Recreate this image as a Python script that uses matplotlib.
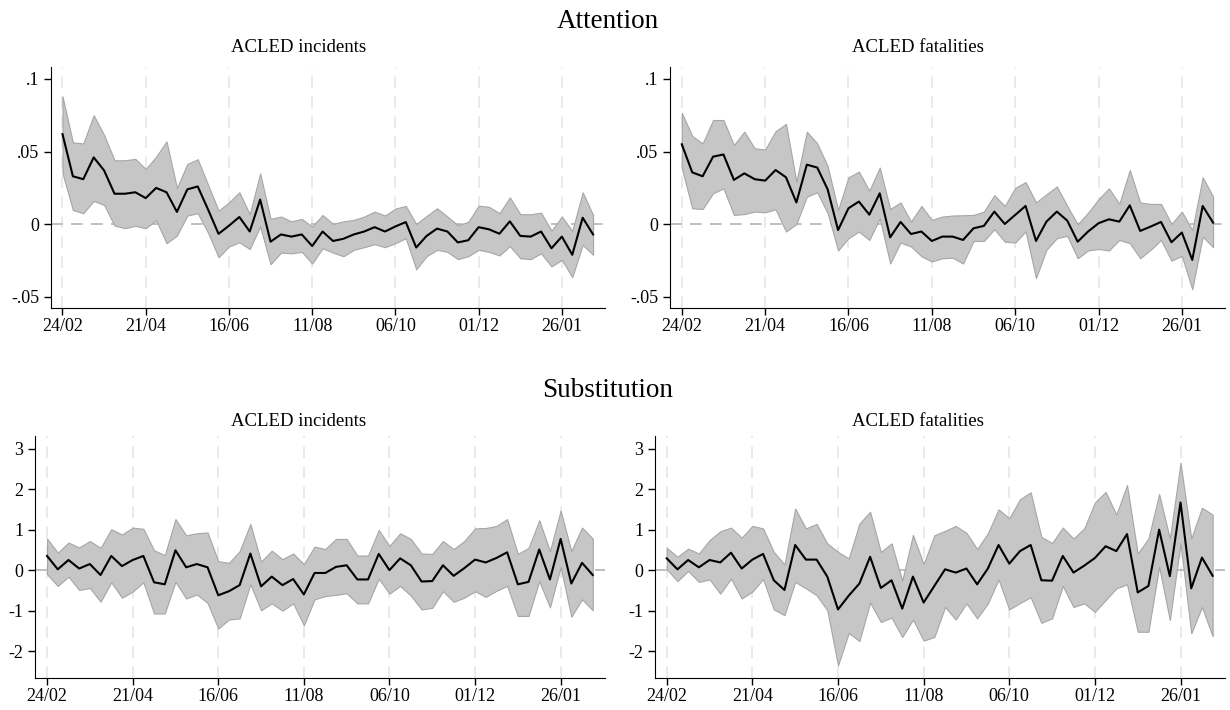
import matplotlib
matplotlib.use('Agg')
import matplotlib.pyplot as plt
import numpy as np

plt.rcParams['font.family'] = ['Liberation Serif', 'DejaVu Serif']

weeks = np.arange(52)
tick_pos = [0, 8, 16, 24, 32, 40, 48]
tick_labels = ["24/02", "21/04", "16/06", "11/08", "06/10", "01/12", "26/01"]

# Attention - ACLED incidents
att_inc = [0.062, 0.033, 0.031, 0.046, 0.037, 0.021, 0.021, 0.022, 0.018, 0.025,
           0.022, 0.0085, 0.024, 0.026, 0.010, -0.0066, -0.001, 0.005, -0.005, 0.017,
           -0.012, -0.007, -0.0085, -0.007, -0.015, -0.005, -0.0115, -0.010, -0.007, -0.005,
           -0.002, -0.005, -0.0015, 0.0015, -0.016, -0.008, -0.003, -0.005, -0.0125, -0.011,
           -0.002, -0.0035, -0.0065, 0.002, -0.008, -0.0085, -0.005, -0.0165, -0.0085, -0.021,
           0.0045, -0.007]
att_inc_hi = [0.088, 0.0563, 0.0556, 0.075, 0.0614, 0.044, 0.044, 0.045, 0.038, 0.0465,
              0.057, 0.025, 0.0415, 0.0447, 0.027, 0.0094, 0.015, 0.022, 0.007, 0.035,
              0.0037, 0.0053, 0.002, 0.0037, -0.0016, 0.0064, 0.0002, 0.002, 0.003, 0.0053,
              0.0087, 0.006, 0.0108, 0.0126, 0.0002, 0.0057, 0.011, 0.0053, -0.0007, 0.0016,
              0.0128, 0.012, 0.0076, 0.0185, 0.0069, 0.0069, 0.008, -0.0044, 0.0053, -0.0046,
              0.022, 0.0064]
att_inc_lo = [0.035, 0.0098, 0.0076, 0.016, 0.0133, -0.0009, -0.0027, -0.0011, -0.0027, 0.0027,
              -0.013, -0.0078, 0.006, 0.0076, -0.006, -0.0227, -0.0153, -0.0124, -0.017, -0.0016,
              -0.0275, -0.0195, -0.020, -0.019, -0.027, -0.0165, -0.0195, -0.022, -0.0176, -0.0158,
              -0.0137, -0.0158, -0.013, -0.0096, -0.031, -0.022, -0.0176, -0.019, -0.024, -0.022,
              -0.0176, -0.019, -0.0215, -0.015, -0.0234, -0.024, -0.020, -0.029, -0.0245, -0.0364,
              -0.0142, -0.021]

# Attention - ACLED fatalities
att_fat = [0.055, 0.0357, 0.033, 0.0465, 0.048, 0.0305, 0.035, 0.031, 0.030, 0.0373,
           0.0323, 0.015, 0.041, 0.039, 0.024, -0.004, 0.011, 0.0156, 0.0066, 0.0213,
           -0.009, 0.0016, -0.0067, -0.005, -0.0115, -0.0085, -0.0085, -0.0108, -0.0028, -0.0011,
           0.0087, 0.0002, 0.0064, 0.0126, -0.0115, 0.0018, 0.0087, 0.0025, -0.012, -0.005,
           0.0007, 0.0034, 0.0018, 0.013, -0.0046, -0.0016, 0.0016, -0.0124, -0.0057, -0.0245,
           0.0126, 0.0011]
att_fat_hi = [0.0767, 0.0607, 0.0556, 0.0717, 0.0717, 0.0545, 0.0637, 0.0522, 0.0515, 0.064,
              0.069, 0.0293, 0.0637, 0.0556, 0.040, 0.0098, 0.0323, 0.0362, 0.0231, 0.039,
              0.0105, 0.015, 0.0018, 0.0126, 0.003, 0.0053, 0.006, 0.0062, 0.0064, 0.0087,
              0.020, 0.0126, 0.025, 0.029, 0.015, 0.0206, 0.026, 0.0126, 0.000, 0.008,
              0.0172, 0.0247, 0.014, 0.0373, 0.015, 0.014, 0.014, 0.0002, 0.0087, -0.004,
              0.0323, 0.019]
att_fat_lo = [0.0385, 0.011, 0.0105, 0.0213, 0.0247, 0.0064, 0.007, 0.0087, 0.0082, 0.0103,
              -0.005, 0.0002, 0.019, 0.022, 0.0076, -0.018, -0.0096, -0.005, -0.0108, 0.0041,
              -0.027, -0.0126, -0.0153, -0.022, -0.0256, -0.0234, -0.023, -0.027, -0.0115, -0.0115,
              -0.0034, -0.012, -0.0126, -0.005, -0.037, -0.0176, -0.0096, -0.008, -0.0234, -0.018,
              -0.017, -0.018, -0.0108, -0.013, -0.0234, -0.0176, -0.0108, -0.025, -0.0218, -0.0447,
              -0.0085, -0.0158]

# Substitution - ACLED incidents
sub_inc = [0.35, 0.02, 0.25, 0.04, 0.15, -0.12, 0.35, 0.10, 0.25, 0.35,
           -0.30, -0.35, 0.49, 0.07, 0.15, 0.07, -0.62, -0.52, -0.37, 0.41,
           -0.40, -0.16, -0.37, -0.22, -0.60, -0.07, -0.07, 0.08, 0.12, -0.23,
           -0.23, 0.40, 0.00, 0.29, 0.12, -0.28, -0.27, 0.12, -0.14, 0.05,
           0.26, 0.19, 0.30, 0.44, -0.35, -0.29, 0.51, -0.23, 0.77, -0.33,
           0.18, -0.12]
sub_inc_hi = [0.78, 0.43, 0.68, 0.56, 0.72, 0.55, 1.01, 0.88, 1.05, 1.02,
              0.49, 0.37, 1.26, 0.86, 0.91, 0.93, 0.22, 0.18, 0.47, 1.14,
              0.21, 0.48, 0.27, 0.41, 0.15, 0.58, 0.52, 0.77, 0.77, 0.36,
              0.36, 0.99, 0.60, 0.91, 0.77, 0.41, 0.40, 0.72, 0.52, 0.72,
              1.03, 1.04, 1.09, 1.26, 0.40, 0.55, 1.23, 0.47, 1.47, 0.47,
              1.05, 0.78]
sub_inc_lo = [-0.10, -0.39, -0.16, -0.49, -0.44, -0.78, -0.30, -0.68, -0.53, -0.30,
              -1.07, -1.07, -0.29, -0.70, -0.60, -0.81, -1.44, -1.22, -1.19, -0.35,
              -0.99, -0.82, -1.00, -0.82, -1.36, -0.72, -0.64, -0.61, -0.57, -0.82,
              -0.82, -0.21, -0.58, -0.39, -0.63, -0.97, -0.93, -0.52, -0.78, -0.68,
              -0.52, -0.66, -0.51, -0.39, -1.13, -1.13, -0.27, -0.92, 0.08, -1.15,
              -0.72, -0.99]

# Substitution - ACLED fatalities
sub_fat = [0.29, 0.02, 0.25, 0.07, 0.25, 0.19, 0.43, 0.04, 0.26, 0.40,
           -0.25, -0.49, 0.62, 0.26, 0.26, -0.16, -0.97, -0.63, -0.33, 0.33,
           -0.44, -0.25, -0.95, -0.16, -0.80, -0.39, 0.02, -0.06, 0.04, -0.35,
           0.04, 0.62, 0.16, 0.47, 0.62, -0.25, -0.26, 0.35, -0.06, 0.11,
           0.30, 0.59, 0.47, 0.89, -0.55, -0.39, 1.00, -0.15, 1.67, -0.45,
           0.31, -0.14]
sub_fat_hi = [0.55, 0.33, 0.53, 0.41, 0.74, 0.96, 1.05, 0.80, 1.09, 1.03,
              0.45, 0.14, 1.52, 1.03, 1.14, 0.66, 0.45, 0.29, 1.15, 1.44,
              0.45, 0.66, -0.26, 0.87, 0.15, 0.86, 0.97, 1.09, 0.92, 0.52,
              0.91, 1.50, 1.28, 1.75, 1.92, 0.82, 0.67, 1.05, 0.78, 1.03,
              1.67, 1.93, 1.37, 2.10, 0.41, 0.78, 1.88, 0.78, 2.65, 0.78,
              1.54, 1.37]
sub_fat_lo = [0.02, -0.27, -0.02, -0.29, -0.23, -0.58, -0.21, -0.70, -0.53, -0.22,
              -0.97, -1.11, -0.29, -0.45, -0.62, -0.99, -2.35, -1.55, -1.75, -0.80,
              -1.28, -1.17, -1.65, -1.22, -1.74, -1.65, -0.91, -1.22, -0.82, -1.19,
              -0.82, -0.23, -0.97, -0.81, -0.67, -1.30, -1.19, -0.39, -0.91, -0.82,
              -1.03, -0.74, -0.45, -0.35, -1.52, -1.52, 0.08, -1.23, 0.66, -1.56,
              -0.91, -1.63]


def drawPanel(ax, est, lo, hi, ylim, yticks, ylabels):
    for t in tick_pos:
        ax.axvline(t, color="#e6e6e6", lw=1.2, ls=(0, (7, 5)), zorder=0)
    ax.axhline(0, color="#b4b4b4", lw=1.2, ls=(0, (7, 5)), zorder=1)
    ax.fill_between(weeks, lo, hi, facecolor="#c6c6c6", edgecolor="#a6a6a6",
                    lw=0.8, zorder=2)
    ax.plot(weeks, est, color="black", lw=1.5, zorder=3)
    ax.set_xlim(-1.1, 52.15)
    ax.set_ylim(*ylim)
    ax.set_xticks(tick_pos)
    ax.set_xticklabels(tick_labels)
    ax.set_yticks(yticks)
    ax.set_yticklabels(ylabels)
    ax.spines["top"].set_visible(False)
    ax.spines["right"].set_visible(False)
    ax.tick_params(axis="both", labelsize=13, length=5, width=1, direction="out")
    ax.tick_params(axis="x", pad=2)


fig = plt.figure(figsize=(12.3, 7.1), dpi=100)

att_ticks = [-0.05, 0, 0.05, 0.1]
att_labels = ["-.05", "0", ".05", ".1"]
sub_ticks = [-2, -1, 0, 1, 2, 3]
sub_labels = ["-2", "-1", "0", "1", "2", "3"]

ax1 = fig.add_axes([0.0415, 0.5658, 0.4504, 0.3403])
drawPanel(ax1, att_inc, att_inc_lo, att_inc_hi, (-0.0578, 0.1084), att_ticks, att_labels)
ax2 = fig.add_axes([0.545, 0.5658, 0.451, 0.3403])
drawPanel(ax2, att_fat, att_fat_lo, att_fat_hi, (-0.0578, 0.1084), att_ticks, att_labels)
ax3 = fig.add_axes([0.0287, 0.0446, 0.4632, 0.3413])
drawPanel(ax3, sub_inc, sub_inc_lo, sub_inc_hi, (-2.67, 3.31), sub_ticks, sub_labels)
ax4 = fig.add_axes([0.5325, 0.0446, 0.4634, 0.3413])
drawPanel(ax4, sub_fat, sub_fat_lo, sub_fat_hi, (-2.67, 3.31), sub_ticks, sub_labels)

fig.text(608 / 1230, 0.960, "Attention", ha="center", va="baseline", fontsize=19.5)
fig.text(299 / 1230, 0.9263, "ACLED incidents", ha="center", va="baseline", fontsize=13.5)
fig.text(918 / 1230, 0.9263, "ACLED fatalities", ha="center", va="baseline", fontsize=13.5)
fig.text(608 / 1230, 0.4413, "Substitution", ha="center", va="baseline", fontsize=19.5)
fig.text(299 / 1230, 0.3993, "ACLED incidents", ha="center", va="baseline", fontsize=13.5)
fig.text(918 / 1230, 0.3993, "ACLED fatalities", ha="center", va="baseline", fontsize=13.5)

fig.savefig("out.png", dpi=100)
plt.close(fig)
